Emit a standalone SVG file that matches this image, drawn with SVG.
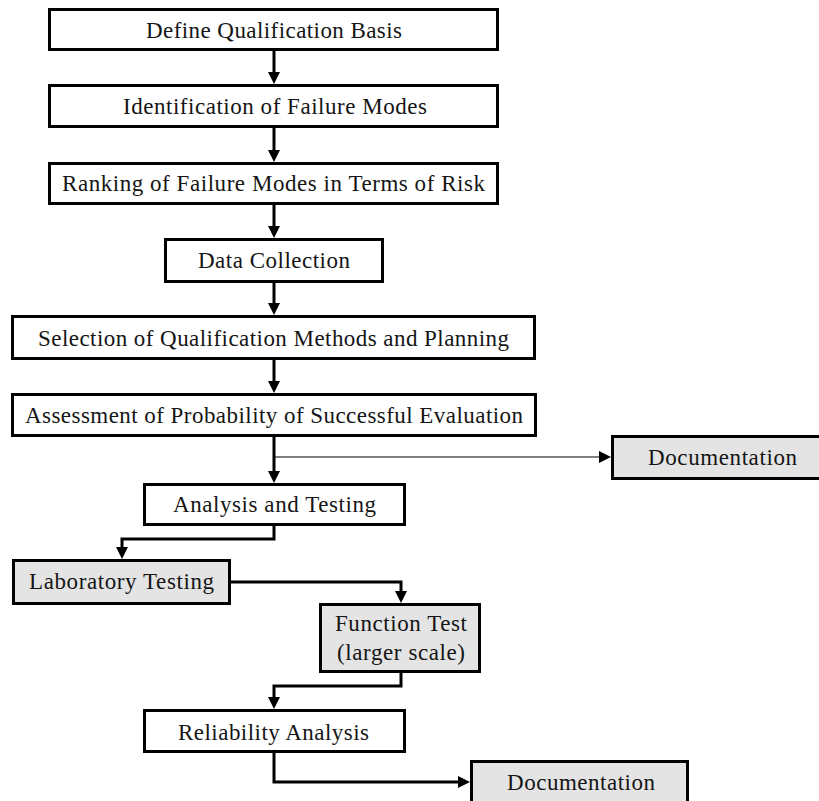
<svg xmlns="http://www.w3.org/2000/svg" width="819" height="801" viewBox="0 0 819 801">
<style>
.box{fill:#ffffff;stroke:#000;stroke-width:3}
.gray{fill:#e4e4e4;stroke:#000;stroke-width:3}
.lbl{font-family:"Liberation Serif","Times New Roman",serif;font-size:23px;fill:#151515;text-anchor:middle}
.con{fill:none;stroke:#000;stroke-width:3}
.thin{fill:none;stroke:#000;stroke-width:1.2}
</style>
<defs>
<marker id="ah" viewBox="0 0 12 12" refX="8" refY="6" markerWidth="12" markerHeight="12" markerUnits="userSpaceOnUse" orient="auto">
<path d="M0,0 L12,6 L0,12 z" fill="#000"/>
</marker>
</defs>
<rect width="819" height="801" fill="#fff"/>
<g id="connectors">
<path class="con" d="M274,51 V80" marker-end="url(#ah)"/>
<path class="con" d="M274,128 V158" marker-end="url(#ah)"/>
<path class="con" d="M274,205 V234" marker-end="url(#ah)"/>
<path class="con" d="M274,283 V311" marker-end="url(#ah)"/>
<path class="con" d="M274,360 V389" marker-end="url(#ah)"/>
<path class="con" d="M274,437 V479" marker-end="url(#ah)"/>
<path class="thin" d="M274,457 H607" marker-end="url(#ah)"/>
<path class="con" d="M274,526 V539 H122 V555" marker-end="url(#ah)"/>
<path class="con" d="M231,582 H401 V599" marker-end="url(#ah)"/>
<path class="con" d="M401,673 V686 H274 V705" marker-end="url(#ah)"/>
<path class="con" d="M274,753 V782 H466" marker-end="url(#ah)"/>
</g>
<g id="define">
<rect class="box" x="49.5" y="9.5" width="448" height="40"/>
<text class="lbl" x="274" y="38" textLength="256">Define Qualification Basis</text>
</g>
<g id="identification">
<rect class="box" x="49.5" y="85.5" width="448" height="41"/>
<text class="lbl" x="275" y="114" textLength="304">Identification of Failure Modes</text>
</g>
<g id="ranking">
<rect class="box" x="49.5" y="163.5" width="448" height="40"/>
<text class="lbl" x="273.5" y="191" textLength="423">Ranking of Failure Modes in Terms of Risk</text>
</g>
<g id="data">
<rect class="box" x="165.5" y="239.5" width="217" height="42"/>
<text class="lbl" x="274" y="268" textLength="152">Data Collection</text>
</g>
<g id="selection">
<rect class="box" x="12.5" y="316.5" width="522" height="42"/>
<text class="lbl" x="273.5" y="346" textLength="471">Selection of Qualification Methods and Planning</text>
</g>
<g id="assessment">
<rect class="box" x="12.5" y="394.5" width="523" height="41"/>
<text class="lbl" x="274" y="423" textLength="498">Assessment of Probability of Successful Evaluation</text>
</g>
<g id="documentation1">
<rect class="gray" x="612.5" y="436.5" width="222" height="42"/>
<text class="lbl" x="722.5" y="465" textLength="149">Documentation</text>
</g>
<g id="analysis">
<rect class="box" x="144.5" y="484.5" width="260" height="40"/>
<text class="lbl" x="274.5" y="512" textLength="203">Analysis and Testing</text>
</g>
<g id="laboratory">
<rect class="gray" x="13.5" y="560.5" width="216" height="43"/>
<text class="lbl" x="121.5" y="589" textLength="185">Laboratory Testing</text>
</g>
<g id="function">
<rect class="gray" x="320.5" y="604.5" width="159" height="67"/>
<text class="lbl" x="401" y="631" textLength="132">Function Test</text>
<text class="lbl" x="401" y="660" textLength="128">(larger scale)</text>
</g>
<g id="reliability">
<rect class="box" x="144.5" y="710.5" width="260" height="41"/>
<text class="lbl" x="273.5" y="740" textLength="191">Reliability Analysis</text>
</g>
<g id="documentation2">
<rect class="gray" x="471.5" y="761.5" width="216" height="50"/>
<text class="lbl" x="581" y="790" textLength="148">Documentation</text>
</g>
</svg>
